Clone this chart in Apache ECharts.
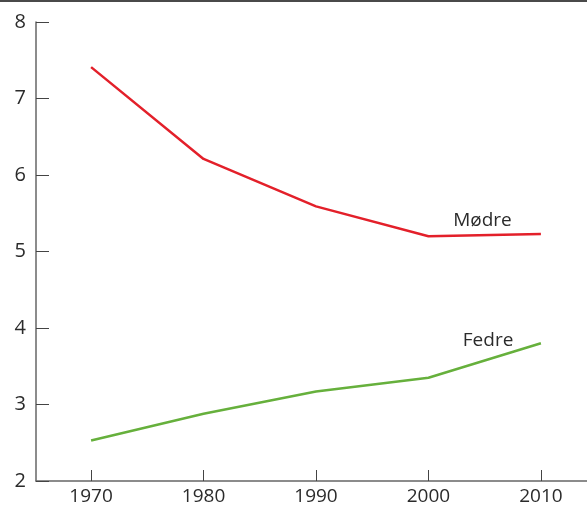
<!DOCTYPE html>
<html><head><meta charset="utf-8">
<script src="https://cdn.jsdelivr.net/npm/echarts@6/dist/echarts.min.js"></script>
<style>html,body{margin:0;padding:0;background:#fff}#c{width:587px;height:508px}</style>
</head><body><div id="c"></div>
<script>
var years = [1970, 1980, 1990, 2000, 2010];
var modre = [7.41, 6.21, 5.59, 5.20, 5.23];
var fedre = [2.53, 2.88, 3.17, 3.35, 3.80];
var yTicks = [2, 3, 4, 5, 6, 7, 8];
var labelModre = 'Mødre';
var labelFedre = 'Fedre';

var chart = echarts.init(document.getElementById('c'));
var font = '"Open Sans", sans-serif';
function pairs(v){ return years.map(function(y,i){ return [y, v[i]]; }); }
chart.setOption({
  animation: false,
  grid: {left: 36, right: 0, top: 22, bottom: 27, containLabel: false},
  graphic: [{type: 'rect', shape: {x: 0, y: 0, width: 587, height: 2}, style: {fill: '#4a4a4a'}}],
  xAxis: {
    type: 'value', min: 1965.1, max: 2014.1,
    splitLine: {show: false},
    axisLine: {lineStyle: {color: '#666', width: 1.5}},
    axisTick: {show: true, inside: true, length: 11, customValues: years, lineStyle: {color: '#444'}},
    axisLabel: {customValues: years, formatter: function(v){ return String(v); }, color: '#2b2b2b', fontSize: 19, fontFamily: font, margin: 6}
  },
  yAxis: {
    type: 'value', min: 2, max: 8, interval: 1,
    splitLine: {show: false},
    axisLine: {show: true, lineStyle: {color: '#666', width: 1.5}},
    axisTick: {show: true, inside: true, length: 13, lineStyle: {color: '#444'}},
    axisLabel: {customValues: yTicks, color: '#2b2b2b', fontSize: 20, fontFamily: font, margin: 10}
  },
  series: [
    {type: 'line', data: pairs(modre), symbol: 'none', lineStyle: {color: '#e3202a', width: 2.5},
     markPoint: {symbol: 'circle', symbolSize: 0, itemStyle: {color: 'transparent'},
       label: {show: true, position: 'inside', formatter: labelModre, color: '#2b2b2b', fontSize: 19, fontFamily: font},
       data: [{coord: [2004.8, 5.40]}]}},
    {type: 'line', data: pairs(fedre), symbol: 'none', lineStyle: {color: '#66b03c', width: 2.5},
     markPoint: {symbol: 'circle', symbolSize: 0, itemStyle: {color: 'transparent'},
       label: {show: true, position: 'inside', formatter: labelFedre, color: '#2b2b2b', fontSize: 19, fontFamily: font},
       data: [{coord: [2005.3, 3.84]}]}}
  ]
});
</script></body></html>
